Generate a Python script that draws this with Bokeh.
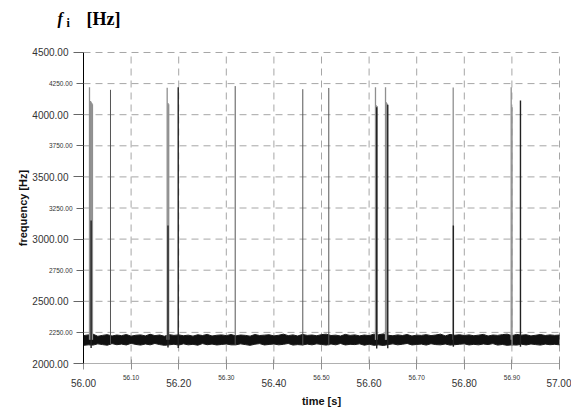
from bokeh.plotting import figure
from bokeh.models import LinearAxis, FixedTicker, PrintfTickFormatter, Range1d, Label, ColumnDataSource
from bokeh.embed import file_html
from bokeh.resources import INLINE

# ---------------- data ----------------
x_major_ticks = [56.0, 56.2, 56.4, 56.6, 56.8, 57.0]
x_minor_ticks = [56.1, 56.3, 56.5, 56.7, 56.9]
y_major_ticks = [2000, 2500, 3000, 3500, 4000, 4500]
y_minor_ticks = [2250, 2750, 3250, 3750, 4250]
grid_x = [56.1, 56.2, 56.3, 56.4, 56.5, 56.6, 56.7, 56.8, 56.9, 57.0]
grid_y = [2250, 2500, 2750, 3000, 3250, 3500, 3750, 4000, 4250, 4500]
t_min, t_max = 56.0, 57.0
f_min, f_max = 2000, 4500

# baseline noise band (upper / lower envelope), every 0.01 s
band_t = [round(56.0 + i * 0.01, 2) for i in range(101)]
band_upper = [2224, 2230, 2236, 2219, 2226, 2232, 2221, 2229, 2224, 2233,
              2220, 2227, 2230, 2222, 2235, 2224, 2229, 2219, 2232, 2226,
              2230, 2223, 2228, 2220, 2231, 2225, 2234, 2221, 2227, 2230,
              2224, 2233, 2222, 2229, 2226, 2220, 2233, 2225, 2228, 2231,
              2222, 2227, 2236, 2224, 2230, 2221, 2234, 2226, 2229, 2223,
              2232, 2236, 2225, 2228, 2221, 2234, 2226, 2230, 2222, 2229,
              2224, 2236, 2231, 2238, 2227, 2223, 2230, 2225, 2233, 2221,
              2228, 2226, 2232, 2224, 2229, 2236, 2222, 2234, 2227, 2231,
              2225, 2230, 2223, 2228, 2234, 2221, 2229, 2226, 2232, 2236,
              2224, 2234, 2228, 2231, 2222, 2227, 2233, 2225, 2230, 2226, 2229]
band_lower = [2146, 2150, 2148, 2158, 2152, 2147, 2160, 2151, 2156, 2149,
              2162, 2153, 2148, 2157, 2150, 2161, 2152, 2146, 2150, 2155,
              2148, 2158, 2150, 2154, 2147, 2160, 2151, 2156, 2149, 2153,
              2157, 2150, 2150, 2158, 2152, 2146, 2155, 2160, 2149, 2153,
              2157, 2150, 2154, 2161, 2148, 2152, 2149, 2156, 2150, 2158,
              2153, 2148, 2157, 2150, 2161, 2149, 2154, 2152, 2158, 2147,
              2155, 2146, 2150, 2145, 2152, 2158, 2150, 2155, 2161, 2149,
              2153, 2156, 2148, 2159, 2152, 2150, 2157, 2148, 2151, 2155,
              2158, 2149, 2154, 2150, 2157, 2152, 2160, 2148, 2153, 2146,
              2150, 2148, 2155, 2149, 2157, 2152, 2148, 2156, 2151, 2154, 2150]

# spikes: time [s], lowest and peak frequency [Hz], shade
spike_t = [56.0126, 56.0145, 56.0160, 56.0175, 56.0188, 56.0160,
           56.0567,
           56.1758, 56.1775, 56.1790, 56.1775,
           56.1990,
           56.3187, 56.4607, 56.5153,
           56.6134, 56.6150, 56.6168, 56.6160,
           56.6345, 56.6362, 56.6380, 56.6392,
           56.7767, 56.7770,
           56.8985, 56.9003,
           56.9180]
spike_low = [2190, 2190, 2190, 2190, 2190, 2125,
             2150,
             2190, 2190, 2190, 2128,
             2125,
             2150, 2145, 2145,
             2190, 2190, 2190, 2120,
             2190, 2190, 2190, 2122,
             2190, 2135,
             2190, 2140,
             2135]
spike_f = [4221, 4110, 4105, 4095, 4085, 3150,
           4200,
           4216, 4095, 4085, 3110,
           4220,
           4230, 4205, 4215,
           4220, 4075, 4070, 4060,
           4220, 4100, 4090, 4080,
           4218, 3110,
           4220, 4060,
           4115]
spike_shade = ["gray", "gray", "gray", "gray", "gray", "dark",
               "mid",
               "gray", "gray", "gray", "dark",
               "dark",
               "mid", "mid", "mid",
               "gray", "gray", "gray", "dark",
               "gray", "gray", "gray", "dark",
               "gray", "dark",
               "gray", "gray",
               "dark"]

# ---------------- figure ----------------
# the frame fills the whole canvas; axes are pinned at t=56.0 / f=2000
p = figure(width=571, height=410,
           x_range=Range1d(55.82563, 57.02521), y_range=Range1d(1622.2, 4918.0),
           x_axis_location=None, y_axis_location=None,
           output_backend="svg", toolbar_location=None,
           min_border=0)
p.title.visible = False
p.grid.visible = False
p.outline_line_color = None
p.background_fill_color = "white"
p.border_fill_color = "white"

grid_color = "#a6a6a6"
p.segment(x0=grid_x, y0=[f_min] * len(grid_x), x1=grid_x, y1=[f_max] * len(grid_x),
          line_color=grid_color, line_dash="7 5", line_width=1)
p.segment(x0=[t_min] * len(grid_y), y0=grid_y, x1=[t_max] * len(grid_y), y1=grid_y,
          line_color=grid_color, line_dash="7 5", line_width=1)

# noise band
p.varea(x=band_t, y1=band_lower, y2=band_upper, fill_color="#111111", fill_alpha=1.0)
p.line(x=band_t, y=band_upper, line_color="#1a1a1a", line_width=1.0, line_join="miter")
p.line(x=band_t, y=band_lower, line_color="#1a1a1a", line_width=1.0, line_join="miter")

shade_color = {"gray": "#8f8f8f", "mid": "#555555", "dark": "#222222"}
shade_width = {"gray": 1.3, "mid": 1.0, "dark": 1.4}
src = ColumnDataSource(dict(
    x=spike_t, y0=spike_low, y1=spike_f,
    c=[shade_color[s] for s in spike_shade], w=[shade_width[s] for s in spike_shade]))
p.segment(x0="x", y0="y0", x1="x", y1="y1", line_color="c", line_width="w", source=src)

label_color = "#333333"
font = "Liberation Sans"

# y axes (major with big labels, minor with small labels)
ymaj = LinearAxis(ticker=FixedTicker(ticks=y_major_ticks), formatter=PrintfTickFormatter(format="%.2f"),
                  fixed_location=t_min, bounds=(f_min, f_max), axis_label="frequency [Hz]")
ymaj.axis_line_color = "#000000"
ymaj.major_tick_in = 0
ymaj.major_tick_out = 10
ymaj.major_tick_line_color = "#666666"
ymaj.minor_tick_line_color = None
ymaj.major_label_standoff = 5
ymaj.major_label_text_font = font
ymaj.major_label_text_font_size = "10px"
ymaj.major_label_text_color = label_color
ymaj.axis_label_text_font = font
ymaj.axis_label_text_font_size = "11px"
ymaj.axis_label_text_font_style = "bold"
ymaj.axis_label_text_color = "#111111"
ymaj.axis_label_standoff = 0
p.add_layout(ymaj, "left")

ymin = LinearAxis(ticker=FixedTicker(ticks=y_minor_ticks), formatter=PrintfTickFormatter(format="%.2f"),
                  fixed_location=t_min, bounds=(f_min, f_max))
ymin.axis_line_color = None
ymin.major_tick_in = 0
ymin.major_tick_out = 7
ymin.major_tick_line_color = "#666666"
ymin.minor_tick_line_color = None
ymin.major_label_standoff = 4
ymin.major_label_text_font = font
ymin.major_label_text_font_size = "6.5px"
ymin.major_label_text_color = label_color
p.add_layout(ymin, "left")

# x axes
xmaj = LinearAxis(ticker=FixedTicker(ticks=x_major_ticks), formatter=PrintfTickFormatter(format="%.2f"),
                  fixed_location=f_min, bounds=(t_min, t_max), axis_label="time [s]")
xmaj.axis_line_color = "#b0b0b0"
xmaj.major_tick_in = 4
xmaj.major_tick_out = 6
xmaj.major_tick_line_color = "#909090"
xmaj.minor_tick_line_color = None
xmaj.major_label_standoff = 9
xmaj.major_label_text_font = font
xmaj.major_label_text_font_size = "10px"
xmaj.major_label_text_color = label_color
xmaj.axis_label_text_font = font
xmaj.axis_label_text_font_size = "11px"
xmaj.axis_label_text_font_style = "bold"
xmaj.axis_label_text_color = "#111111"
xmaj.axis_label_standoff = 5
p.add_layout(xmaj, "below")

xmin = LinearAxis(ticker=FixedTicker(ticks=x_minor_ticks), formatter=PrintfTickFormatter(format="%.2f"),
                  fixed_location=f_min, bounds=(t_min, t_max))
xmin.axis_line_color = None
xmin.major_tick_in = 4
xmin.major_tick_out = 6
xmin.major_tick_line_color = "#909090"
xmin.minor_tick_line_color = None
xmin.major_label_standoff = 5
xmin.major_label_text_font = font
xmin.major_label_text_font_size = "6.5px"
xmin.major_label_text_color = label_color
p.add_layout(xmin, "below")

# title "f_i [Hz]"
serif = "Liberation Serif"
p.add_layout(Label(x=55.94538, y=4777, text="f", text_font=serif, text_font_size="16px",
                   text_font_style="bold italic", text_color="#000000", text_baseline="alphabetic"))
p.add_layout(Label(x=55.96429, y=4735, text="i", text_font=serif, text_font_size="12px",
                   text_font_style="bold", text_color="#000000", text_baseline="alphabetic"))
p.add_layout(Label(x=56.00630, y=4768, text="[Hz]", text_font=serif, text_font_size="18px",
                   text_font_style="bold", text_color="#000000", text_baseline="alphabetic"))

open("out.html", "w").write(file_html(p, INLINE))
